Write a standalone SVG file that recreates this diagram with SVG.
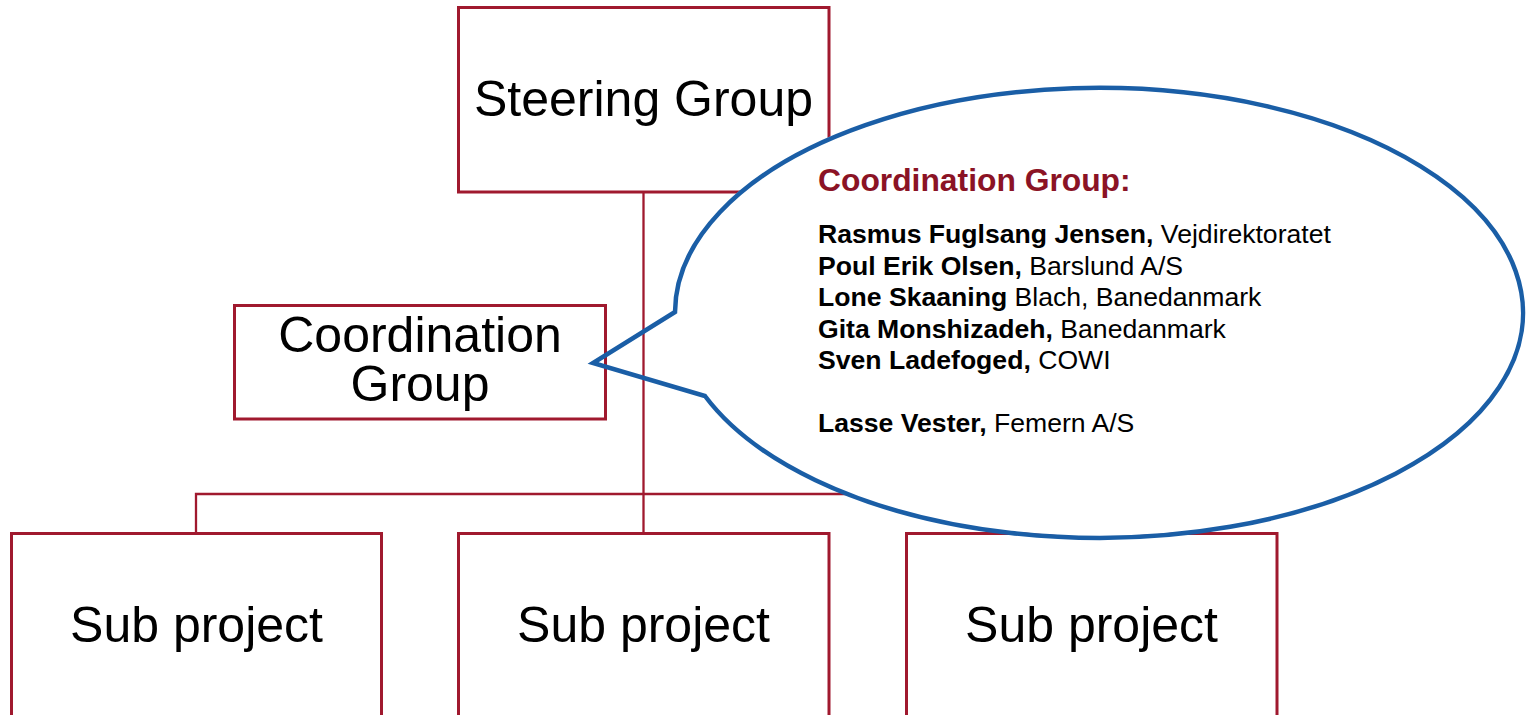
<svg xmlns="http://www.w3.org/2000/svg" width="1527" height="715" viewBox="0 0 1527 715">
<style>
.box{fill:#ffffff;stroke:#A0192E;stroke-width:3}
.conn{fill:none;stroke:#A0192E;stroke-width:2.3}
.big{font-family:"Liberation Sans",Arial,sans-serif;font-size:50px;fill:#000000;text-anchor:middle}
.head{font-family:"Liberation Sans",Arial,sans-serif;font-size:31.8px;font-weight:bold;fill:#8B1325}
.names{font-family:"Liberation Sans",Arial,sans-serif;font-size:26.6px;fill:#000000}
.b{font-weight:bold}
.callout-line{fill:none;stroke:#1A5EA6;stroke-width:4.5;stroke-linejoin:miter}
</style>
<rect width="1527" height="715" fill="#ffffff"/>
<g id="connectors">
<line class="conn" x1="643.5" y1="192" x2="643.5" y2="533"/>
<polyline class="conn" points="196,533 196,494 1092,494 1092,533"/>
</g>
<g id="steering-group">
<rect class="box" x="458.5" y="7.5" width="370.5" height="184.5"/>
<text class="big" x="643.5" y="116">Steering Group</text>
</g>
<g id="coordination-group">
<rect class="box" x="234.5" y="305.5" width="371" height="113.5"/>
<text class="big" x="420" y="352">Coordination</text>
<text class="big" x="420" y="401">Group</text>
</g>
<g id="sub-project-1">
<rect class="box" x="11.5" y="533.5" width="370" height="200"/>
<text class="big" x="196.5" y="642">Sub project</text>
</g>
<g id="sub-project-2">
<rect class="box" x="458.5" y="533.5" width="370.5" height="200"/>
<text class="big" x="643.5" y="642">Sub project</text>
</g>
<g id="sub-project-3">
<rect class="box" x="906.5" y="533.5" width="370.5" height="200"/>
<text class="big" x="1091.5" y="642">Sub project</text>
</g>
<g id="callout">
<ellipse cx="1098" cy="311" rx="424" ry="225" fill="#ffffff"/>
<path class="callout-line" d="M675,312 L593,363 L705,396 A424,225 0 1 0 675,312 Z"/>
<text class="head" x="818" y="191">Coordination Group:</text>
<text class="names" x="818" y="243"><tspan class="b">Rasmus Fuglsang Jensen,</tspan> Vejdirektoratet</text>
<text class="names" x="818" y="275"><tspan class="b">Poul Erik Olsen,</tspan> Barslund A/S</text>
<text class="names" x="818" y="306"><tspan class="b">Lone Skaaning</tspan> Blach, Banedanmark</text>
<text class="names" x="818" y="338"><tspan class="b">Gita Monshizadeh,</tspan> Banedanmark</text>
<text class="names" x="818" y="369"><tspan class="b">Sven Ladefoged,</tspan> COWI</text>
<text class="names" x="818" y="432"><tspan class="b">Lasse Vester,</tspan> Femern A/S</text>
</g>
</svg>
